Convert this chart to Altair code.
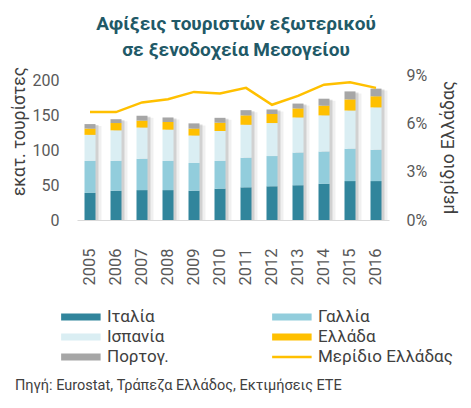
import altair as alt
import pandas as pd

years = ["2005", "2006", "2007", "2008", "2009", "2010", "2011", "2012", "2013", "2014", "2015", "2016"]
italy = [39, 42, 43, 43, 42, 45, 47, 48.5, 50, 52, 56, 56]
france = [46, 43, 45, 42, 40, 40, 42.5, 43.5, 47, 46.5, 46.5, 45]
spain = [37.5, 44, 45, 45, 39.5, 43, 47.5, 47.5, 50.5, 52, 55, 61]
greece = [9, 10.5, 10, 11, 10, 12, 13.5, 13, 13, 14, 16, 16]
portugal = [6.5, 5.5, 7, 6.5, 7.5, 7, 7.5, 6.5, 7, 10, 11.5, 11]
share_pct = [6.7, 6.7, 7.3, 7.5, 7.95, 7.85, 8.2, 7.15, 7.7, 8.4, 8.55, 8.2]

countries = ["Ιταλία", "Γαλλία", "Ισπανία", "Ελλάδα", "Πορτογ."]
country_colors = ["#31859C", "#92CDDC", "#DAEEF3", "#FFC000", "#A6A6A6"]
line_name = "Μερίδιο Ελλάδας"
line_color = "#FFC000"
# legend is filled column by column: Italy, Spain, Portugal | France, Greece, share
legend_order = ["Ιταλία", "Ισπανία", "Πορτογ.", "Γαλλία", "Ελλάδα", line_name]
title_lines = ["Αφίξεις τουριστών εξωτερικού", "σε ξενοδοχεία Μεσογείου"]
source = "Πηγή: Eurostat, Τράπεζα Ελλάδος, Εκτιμήσεις ΕΤΕ"

color_of = dict(zip(countries, country_colors))
color_of[line_name] = line_color
legend_colors = [color_of[n] for n in legend_order]

series = [italy, france, spain, greece, portugal]
rows = []
for i, yr in enumerate(years):
    for k, name in enumerate(countries):
        rows.append({"year": yr, "country": name, "value": series[k][i], "ord": k})
bars_df = pd.DataFrame(rows)
tot_df = pd.DataFrame({"year": years, "value": [sum(s[i] for s in series) for i in range(len(years))]})
share_df = pd.DataFrame({"year": years, "share": [v / 100 for v in share_pct]})
src_df = pd.DataFrame({"text": [source]})

FONT = "Roboto"
GREY = "#595959"

x_enc = alt.X("year:N", sort=years, scale=alt.Scale(paddingInner=0, paddingOuter=0),
              axis=alt.Axis(title=None, labelAngle=-90, labelAlign="right", labelBaseline="middle",
                            labelPadding=28, ticks=False, domainColor="#D9D9D9",
                            labelFontSize=16.5, labelColor=GREY))

left_axis = alt.Axis(title="εκατ. τουρίστες", values=[0, 50, 100, 150, 200], grid=False, domain=False,
                     ticks=False, labelPadding=18, labelFontSize=16, labelColor=GREY,
                     titleFontSize=17.5, titleColor="#404040", titleFontWeight="normal",
                     titleX=-58, titleY=56, titleAngle=270, titleAlign="center", titleBaseline="middle")
left_scale = alt.Scale(domain=[0, 208.6], nice=False)

shadow1 = alt.Chart(tot_df).mark_bar(width=11, color="#808080", opacity=0.28, xOffset=3, yOffset=1).encode(
    x=x_enc, y=alt.Y("value:Q", stack=None, scale=left_scale, axis=left_axis))
shadow2 = alt.Chart(tot_df).mark_bar(width=11, color="#808080", opacity=0.12, xOffset=6, yOffset=2).encode(
    x=x_enc, y=alt.Y("value:Q", stack=None, scale=left_scale, axis=left_axis))

sym_rect = "M-1,-0.36H3V0.36H-1Z"
sym_line = "M-1,-0.13H3V0.13H-1Z"
sym_expr = "datum.value === '" + line_name + "' ? '" + sym_line + "' : '" + sym_rect + "'"

bars = alt.Chart(bars_df).mark_bar(width=11).encode(
    x=x_enc,
    y=alt.Y("value:Q", stack="zero", scale=left_scale, axis=left_axis),
    color=alt.Color("country:N", scale=alt.Scale(domain=legend_order, range=legend_colors),
                    legend=alt.Legend(title=None, orient="none", legendX=-16, legendY=232, columns=2,
                                      columnPadding=103, rowPadding=2, symbolType={"expr": sym_expr},
                                      symbolSize=390, symbolStrokeWidth=0, labelFontSize=17,
                                      labelColor="#404040", labelOffset=26)),
    order=alt.Order("ord:Q", sort="ascending"),
)

line = alt.Chart(share_df).mark_line(color=line_color, strokeWidth=2.5).encode(
    x=x_enc,
    y=alt.Y("share:Q", scale=alt.Scale(domain=[0, 0.09], nice=False),
            axis=alt.Axis(orient="right", format=".0%", values=[0, 0.03, 0.06, 0.09], grid=False,
                          domain=False, ticks=False, labelPadding=17, labelFontSize=16, labelColor=GREY,
                          title="μερίδιο Ελλάδας", titleFontSize=17.5, titleColor="#404040",
                          titleFontWeight="normal", titleX=59, titleY=72, titleAngle=270,
                          titleAlign="center", titleBaseline="middle")),
)

src = alt.Chart(src_df).mark_text(align="left", baseline="middle", fontSize=14.5, color="#404040").encode(
    text="text:N", x=alt.value(-62), y=alt.value(311))

left_layer = alt.layer(shadow2, shadow1, bars)
chart = alt.layer(left_layer, line, src).resolve_scale(y="independent").properties(
    width=312, height=145,
    autosize=alt.AutoSizeParams(type="none"),
    padding={"left": 69, "top": 67, "right": 74, "bottom": 180},
    title=alt.TitleParams(title_lines, fontSize=19, fontWeight="bold", color="#215967", lineHeight=26,
                          anchor="middle", offset=6, font=FONT, dx=3),
).configure(font=FONT).configure_view(stroke=None)

chart.save("out.html", embed_options={"renderer": "svg", "actions": False})
